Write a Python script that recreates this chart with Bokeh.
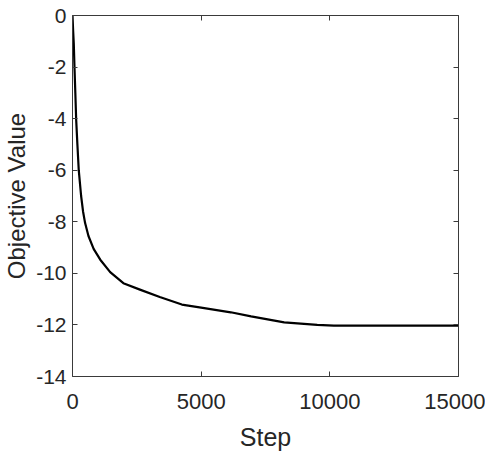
from bokeh.plotting import figure
from bokeh.models import Range1d, LinearAxis, FixedTicker, CustomJSTickFormatter
from bokeh.embed import file_html
from bokeh.resources import INLINE

# Data
steps = [0, 25, 50, 77, 110, 141, 190, 243, 335, 410, 490, 620, 821, 1079,
         1464, 1977, 2620, 3391, 4250, 5059, 6150, 6940, 8226, 9511, 10157,
         11000, 15000]
values = [0.0, -0.6, -1.1, -2.0, -3.0, -4.0, -5.0, -6.0, -7.0, -7.6, -8.05,
          -8.55, -9.05, -9.47, -9.95, -10.38, -10.63, -10.92, -11.21, -11.34,
          -11.51, -11.67, -11.9, -12.0, -12.03, -12.03, -12.03]
x_ticks = [0, 5000, 10000, 15000]
x_tick_labels = ["0", "5000", "10000", "15000"]
y_ticks = [-14, -12, -10, -8, -6, -4, -2, 0]
y_tick_labels = ["-14", "-12", "-10", "-8", "-6", "-4", "-2", "0"]
x_label = "Step"
y_label = "Objective Value"

TXT = "#262626"
AX = "#3a3a3a"
FONT = "Liberation Sans"

p = figure(width=485, height=453,
           x_range=Range1d(0, 15000), y_range=Range1d(-14, 0),
           output_backend="svg", toolbar_location=None,
           min_border_left=69, min_border_top=15, min_border_right=27,
           min_border_bottom=76,
           x_axis_label=x_label, y_axis_label=y_label)
p.grid.visible = False
p.outline_line_color = None
p.background_fill_color = "white"
p.border_fill_color = "white"

p.line(steps, values, line_color="black", line_width=2.2, line_join="round")

def style(ax):
    ax.axis_line_color = AX
    ax.axis_line_width = 1
    ax.major_tick_line_color = AX
    ax.major_tick_in = 5
    ax.major_tick_out = 0
    ax.minor_tick_line_color = None
    ax.major_label_text_color = TXT
    ax.major_label_text_font = FONT
    ax.axis_label_text_color = TXT
    ax.axis_label_text_font = FONT
    ax.axis_label_text_font_style = "normal"

for ax in p.xaxis:
    style(ax)
    ax.ticker = FixedTicker(ticks=x_ticks)
    ax.major_label_overrides = dict(zip(x_ticks, x_tick_labels))
    ax.major_label_text_font_size = "22px"
    ax.major_label_standoff = 17
    ax.axis_label_text_font_size = "25px"
    ax.axis_label_standoff = 11
for ax in p.yaxis:
    style(ax)
    ax.ticker = FixedTicker(ticks=y_ticks)
    ax.major_label_overrides = dict(zip(y_ticks, y_tick_labels))
    ax.major_label_text_font_size = "21px"
    ax.major_label_standoff = 6
    ax.axis_label_text_font_size = "24px"
    ax.axis_label_standoff = 3

blank = CustomJSTickFormatter(code="return ''")
top = LinearAxis(ticker=FixedTicker(ticks=x_ticks), formatter=blank)
style(top)
top.major_label_standoff = 0
p.add_layout(top, "above")
right = LinearAxis(ticker=FixedTicker(ticks=y_ticks), formatter=blank)
style(right)
right.major_label_standoff = 0
p.add_layout(right, "right")

open("out.html", "w").write(file_html(p, INLINE))
